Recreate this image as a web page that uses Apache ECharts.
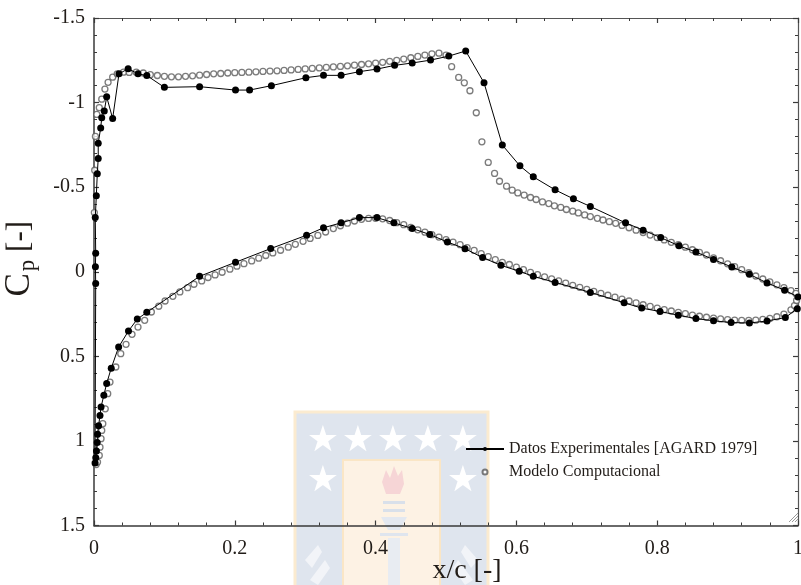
<!DOCTYPE html>
<html><head><meta charset="utf-8">
<script src="https://cdn.jsdelivr.net/npm/echarts@6/dist/echarts.min.js"></script>
<style>html,body{margin:0;padding:0;background:#fff}#c{width:801px;height:585px}</style>
</head><body><div id="c"></div>
<script>
// Axis ranges / ticks
const xRange = [0, 1], xStep = 0.2;
const yRange = [-1.5, 1.5], yStep = 0.5;
const legendNames = ['Datos Experimentales [AGARD 1979]', 'Modelo Computacional'];

// Experimental data [x/c, Cp] (upper surface TE -> LE, then lower surface LE -> TE)
const expUpper = [[1.0,0.149],[0.981,0.109],[0.956,0.066],[0.931,0.015],[0.906,-0.028],[0.880,-0.072],[0.855,-0.117],[0.831,-0.153],[0.805,-0.202],[0.780,-0.246],[0.755,-0.289],[0.705,-0.386],[0.681,-0.431],[0.655,-0.484],[0.624,-0.561],[0.605,-0.626],[0.580,-0.749],[0.554,-1.117],[0.528,-1.305],[0.504,-1.275],[0.478,-1.251],[0.452,-1.234],[0.427,-1.220],[0.402,-1.198],[0.377,-1.183],[0.351,-1.161],[0.326,-1.161],[0.301,-1.147],[0.252,-1.100],[0.221,-1.074],[0.201,-1.074],[0.150,-1.094],[0.100,-1.090],[0.075,-1.160],[0.0625,-1.170],[0.0485,-1.200],[0.0355,-1.170],[0.0265,-0.906],[0.018,-1.034],[0.0146,-0.950],[0.011,-0.910],[0.0095,-0.850],[0.006,-0.760],[0.006,-0.670],[0.0047,-0.580],[0.0033,-0.450],[0.0018,-0.320],[0.0024,-0.110],[0.0020,-0.030],[0.0024,0.070]];
const expLower = [[0.0015,1.13],[0.0025,1.10],[0.0035,1.06],[0.0045,1.01],[0.005,0.96],[0.0065,0.91],[0.0085,0.85],[0.010,0.80],[0.014,0.73],[0.018,0.66],[0.0245,0.57],[0.035,0.445],[0.049,0.35],[0.0615,0.28],[0.075,0.24],[0.150,0.027],[0.201,-0.056],[0.251,-0.137],[0.302,-0.216],[0.326,-0.260],[0.351,-0.289],[0.377,-0.320],[0.402,-0.320],[0.426,-0.289],[0.452,-0.256],[0.477,-0.220],[0.502,-0.176],[0.527,-0.136],[0.552,-0.084],[0.578,-0.038],[0.604,-0.003],[0.624,0.027],[0.655,0.063],[0.705,0.122],[0.753,0.183],[0.778,0.215],[0.804,0.235],[0.830,0.257],[0.855,0.277],[0.880,0.290],[0.905,0.300],[0.931,0.303],[0.956,0.291],[0.982,0.271],[0.999,0.218]];

// Computational model [x/c, Cp]
const compUpper = [[0.0005,-0.35],[0.001,-0.60],[0.002,-0.80],[0.004,-0.93],[0.0075,-0.97],[0.011,-1.02],[0.0155,-1.08],[0.020,-1.12],[0.0265,-1.15],[0.033,-1.17],[0.042,-1.18],[0.050,-1.178],[0.060,-1.180],[0.070,-1.175],[0.080,-1.165],[0.090,-1.160],[0.100,-1.155],[0.110,-1.152],[0.120,-1.152],[0.130,-1.155],[0.140,-1.158],[0.150,-1.162],[0.160,-1.166],[0.170,-1.170],[0.180,-1.172],[0.190,-1.175],[0.200,-1.177],[0.210,-1.178],[0.220,-1.180],[0.230,-1.182],[0.240,-1.184],[0.250,-1.186],[0.260,-1.188],[0.270,-1.190],[0.280,-1.193],[0.290,-1.196],[0.300,-1.199],[0.310,-1.202],[0.320,-1.205],[0.330,-1.208],[0.340,-1.211],[0.350,-1.214],[0.360,-1.217],[0.370,-1.221],[0.380,-1.225],[0.390,-1.229],[0.400,-1.233],[0.410,-1.238],[0.420,-1.244],[0.430,-1.250],[0.440,-1.257],[0.450,-1.265],[0.460,-1.273],[0.470,-1.281],[0.480,-1.288],[0.490,-1.292],[0.500,-1.280],[0.508,-1.212],[0.518,-1.149],[0.526,-1.117],[0.534,-1.070],[0.543,-0.940],[0.551,-0.768],[0.560,-0.646],[0.569,-0.581],[0.576,-0.535],[0.586,-0.506],[0.594,-0.482],[0.602,-0.466],[0.611,-0.453],[0.620,-0.439],[0.628,-0.427],[0.637,-0.413],[0.646,-0.403],[0.654,-0.390],[0.663,-0.380],[0.671,-0.368],[0.680,-0.358],[0.688,-0.348],[0.697,-0.336],[0.705,-0.326],[0.715,-0.316],[0.723,-0.306],[0.732,-0.296],[0.741,-0.286],[0.750,-0.274],[0.760,-0.260],[0.770,-0.246],[0.780,-0.232],[0.790,-0.217],[0.800,-0.202],[0.810,-0.188],[0.820,-0.174],[0.830,-0.160],[0.840,-0.145],[0.850,-0.130],[0.860,-0.114],[0.870,-0.099],[0.880,-0.082],[0.890,-0.065],[0.900,-0.047],[0.910,-0.030],[0.920,-0.012],[0.930,0.006],[0.940,0.025],[0.950,0.043],[0.960,0.060],[0.970,0.077],[0.980,0.094],[0.990,0.112],[0.997,0.128]];
const compLower = [[0.003,1.14],[0.005,1.125],[0.0075,1.086],[0.0085,1.037],[0.010,0.987],[0.011,0.938],[0.0125,0.898],[0.016,0.81],[0.0195,0.721],[0.0227,0.652],[0.031,0.563],[0.038,0.484],[0.0455,0.429],[0.054,0.370],[0.0625,0.327],[0.072,0.287],[0.0815,0.238],[0.092,0.204],[0.101,0.173],[0.112,0.145],[0.122,0.119],[0.133,0.094],[0.142,0.074],[0.153,0.054],[0.162,0.034],[0.172,0.019],[0.182,0.003],[0.193,-0.015],[0.203,-0.033],[0.213,-0.048],[0.224,-0.064],[0.234,-0.080],[0.244,-0.096],[0.254,-0.111],[0.265,-0.127],[0.276,-0.145],[0.286,-0.162],[0.297,-0.180],[0.307,-0.197],[0.318,-0.215],[0.329,-0.235],[0.340,-0.255],[0.350,-0.272],[0.360,-0.287],[0.370,-0.300],[0.380,-0.310],[0.390,-0.315],[0.400,-0.316],[0.410,-0.313],[0.420,-0.303],[0.430,-0.290],[0.440,-0.278],[0.450,-0.262],[0.460,-0.248],[0.470,-0.234],[0.480,-0.219],[0.490,-0.205],[0.500,-0.190],[0.510,-0.175],[0.520,-0.160],[0.530,-0.143],[0.540,-0.126],[0.550,-0.107],[0.560,-0.089],[0.570,-0.072],[0.580,-0.056],[0.590,-0.043],[0.600,-0.027],[0.610,-0.012],[0.620,0.004],[0.630,0.017],[0.640,0.030],[0.650,0.042],[0.660,0.054],[0.670,0.067],[0.680,0.080],[0.690,0.092],[0.700,0.104],[0.710,0.116],[0.720,0.128],[0.730,0.139],[0.740,0.150],[0.750,0.162],[0.760,0.173],[0.770,0.184],[0.780,0.195],[0.790,0.205],[0.800,0.215],[0.810,0.224],[0.820,0.232],[0.830,0.240],[0.840,0.248],[0.850,0.256],[0.860,0.263],[0.870,0.269],[0.880,0.274],[0.890,0.279],[0.900,0.283],[0.910,0.286],[0.920,0.288],[0.930,0.288],[0.940,0.286],[0.950,0.282],[0.960,0.276],[0.970,0.266],[0.980,0.250],[0.990,0.225],[0.995,0.200],[0.998,0.170]];

const FONT = 'Liberation Serif';
const TXT = '#211c18';
const chart = echarts.init(document.getElementById('c'), null, {renderer: 'canvas'});

// decorative faint watermark (university shield)
const wm = [
  {type:'rect', shape:{x:295,y:412,width:193,height:190}, style:{fill:'#dfe5ee', stroke:'#fbebd0', lineWidth:3}, z:-10, silent:true},
  {type:'rect', shape:{x:343,y:460,width:97,height:140}, style:{fill:'#fdf2e4', stroke:'#fae6c6', lineWidth:2}, z:-9, silent:true},
  {type:'polygon', shape:{points:[[386,494],[382,482],[386,470],[390,478],[394,466],[398,476],[402,470],[404,484],[400,494]]}, style:{fill:'#f6d5d6'}, z:-8, silent:true},
  {type:'rect', shape:{x:383,y:501,width:22,height:3}, style:{fill:'#d9e0ea'}, z:-8, silent:true},
  {type:'rect', shape:{x:383,y:509,width:22,height:3}, style:{fill:'#d9e0ea'}, z:-8, silent:true},
  {type:'polygon', shape:{points:[[381,517],[407,517],[400,530],[388,530]]}, style:{fill:'#e3e8f0'}, z:-8, silent:true},
  {type:'rect', shape:{x:380,y:533,width:28,height:3}, style:{fill:'#dfe5ee'}, z:-8, silent:true},
  {type:'rect', shape:{x:388,y:538,width:12,height:50}, style:{fill:'#e8ecf2'}, z:-8, silent:true},
  {type:'polygon', shape:{points:[[305,560],[318,545],[322,552],[312,568]]}, style:{fill:'#f2f4f8'}, z:-8, silent:true},
  {type:'polygon', shape:{points:[[310,580],[325,560],[330,568],[318,585]]}, style:{fill:'#f2f4f8'}, z:-8, silent:true},
  {type:'polygon', shape:{points:[[478,560],[465,545],[461,552],[471,568]]}, style:{fill:'#f2f4f8'}, z:-8, silent:true},
  {type:'polygon', shape:{points:[[473,580],[458,560],[453,568],[465,585]]}, style:{fill:'#f2f4f8'}, z:-8, silent:true}
];
[[323,442],[358,442],[393,442],[428,442],[463,442],[323,482],[463,482]].forEach(p => {
  wm.push({type:'text', x:p[0], y:p[1], style:{text:'\u2605', fill:'#ffffff', font:'36px "DejaVu Sans"', align:'center', verticalAlign:'middle'}, z:-7, silent:true});
});
// resize grip in corner
[[789,522,798,513],[792,522,798,516],[795,522,798,519]].forEach(l => {
  wm.push({type:'line', shape:{x1:l[0],y1:l[1],x2:l[2],y2:l[3]}, style:{stroke:'#999', lineWidth:1}, z:5, silent:true});
});

function axLine(c, w){ return {show:true, onZero:false, lineStyle:{color:c, width:w}}; }
function tickIn(){ return {show:true, inside:true, length:5, lineStyle:{color:'#3a3a3a', width:1.2}}; }
function minorIn(){ return {show:true, splitNumber:5, length:3, lineStyle:{color:'#3a3a3a', width:1}}; }

chart.setOption({
  backgroundColor:'#ffffff',
  animation:false,
  graphic: wm,
  grid:{left:94, right:3, top:18, bottom:59.5, containLabel:false, outerBoundsMode:'none'},
  legend:{
    data: legendNames, orient:'vertical', left:460, top:436,
    itemWidth:38, itemHeight:5, itemGap:7,
    textStyle:{fontFamily:FONT, fontSize:16, color:TXT}
  },
  xAxis:[
    {type:'value', min:xRange[0], max:xRange[1], interval:xStep, position:'bottom',
     axisLine:axLine('#3a3a3a',1.5), axisTick:tickIn(), minorTick:minorIn(), splitLine:{show:false},
     axisLabel:{fontFamily:FONT, fontSize:20, color:TXT, margin:13},
     name:'x/c [-]', nameLocation:'middle', nameGap:31, nameMoveOverlap:false,
     nameTextStyle:{fontFamily:FONT, fontSize:28, color:TXT, padding:[0,0,0,42]}},
    {type:'value', min:xRange[0], max:xRange[1], interval:xStep, position:'top',
     axisLine:axLine('#555',1.2), axisTick:tickIn(), minorTick:minorIn(),
     splitLine:{show:false}, axisLabel:{show:false}}
  ],
  yAxis:[
    {type:'value', inverse:true, min:yRange[0], max:yRange[1], interval:yStep, position:'left',
     axisLine:axLine('#3a3a3a',1.5), axisTick:tickIn(), minorTick:minorIn(), splitLine:{show:false},
     axisLabel:{fontFamily:FONT, fontSize:20, color:TXT, margin:9},
     name:'{c|C}{p|p}{s| [-]}', nameLocation:'middle', nameGap:56, nameMoveOverlap:false,
     nameTextStyle:{fontFamily:FONT, color:TXT, padding:[0,0,0,26],
       rich:{c:{fontFamily:FONT, fontSize:35, color:TXT, lineHeight:36},
             p:{fontFamily:FONT, fontSize:23, color:TXT, lineHeight:36, padding:[15,0,0,2]},
             s:{fontFamily:FONT, fontSize:31, color:TXT, lineHeight:36}}}},
    {type:'value', inverse:true, min:yRange[0], max:yRange[1], interval:yStep, position:'right',
     axisLine:axLine('#555',1.2), axisTick:tickIn(), minorTick:minorIn(),
     splitLine:{show:false}, axisLabel:{show:false}}
  ],
  series:[
    {name:legendNames[1], type:'scatter', xAxisIndex:0, yAxisIndex:0,
     data: compUpper.concat(compLower), symbol:'circle', symbolSize:6,
     itemStyle:{color:'#ffffff', borderColor:'#5a5a5a', borderWidth:1.3}, z:2},
    {name:legendNames[0], type:'line', xAxisIndex:0, yAxisIndex:0,
     data: expUpper.concat(expLower), symbol:'circle', symbolSize:7, showAllSymbol:true,
     lineStyle:{color:'#000', width:1}, itemStyle:{color:'#000'}, z:3}
  ]
});
</script></body></html>
